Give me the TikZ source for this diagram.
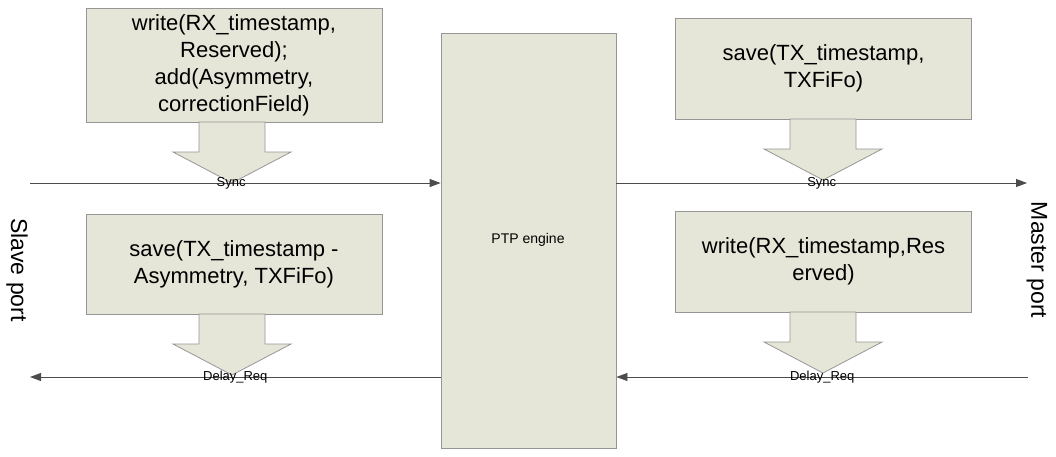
\documentclass[tikz,border=0pt]{standalone}
\usepackage{fontspec}
\setmainfont{Liberation Sans}
\usetikzlibrary{arrows.meta, positioning}

\definecolor{boxfill}{RGB}{230,230,216}
\definecolor{boxline}{RGB}{150,150,150}

\tikzset{
  action/.style = {draw = boxline, fill = boxfill, line width = 0.8pt,
    minimum width = 296pt, align = center, inner sep = 1pt,
    font = \fontsize{22}{27}\selectfont},
  blockarrow/.style = {draw = boxline, fill = boxfill, line width = 0.8pt},
  msg/.style = {draw = black!70, line width = 0.8pt,
    -{Triangle[length = 11pt, width = 8pt]}},
  msglabel/.style = {font = \fontsize{13}{13}\selectfont, inner sep = 1pt},
}

% down-pointing block arrow below a box
\newcommand{\blockdown}[3]{% centre x, top y, tip y
  \draw [blockarrow] (#1-33, #2) -- (#1+33, #2) -- (#1+33, #2+30)
    -- (#1+59, #2+30) -- (#1, #3) -- (#1-59, #2+30) -- (#1-33, #2+30) -- cycle;
}

\begin{document}
\begin{tikzpicture}[x = 1pt, y = -1pt]
        \useasboundingbox (0, 0) rectangle (1056, 456);

        \node [draw = boxline, fill = boxfill, line width = 0.8pt,
          minimum width = 175pt, minimum height = 415pt] (ptp)
          at (528.5, 240.5) {};
        \node [font = \fontsize{14}{14}\selectfont] (ptplabel)
          at (528, 240) {PTP engine};

        \node [action, minimum height = 114pt] (slavesync) at (234, 65)
          {write(RX\_timestamp,\\Reserved);\\add(Asymmetry,\\correctionField)};
        \node [action, minimum height = 101pt] (mastersync) at (823.5, 68.5)
          {save(TX\_timestamp,\\TXFiFo)};
        \node [action, minimum height = 100pt] (slavedelay) at (234, 264)
          {save(TX\_timestamp -\\Asymmetry, TXFiFo)};
        \node [action, minimum height = 101pt] (masterdelay) at (823.5, 261.5)
          {write(RX\_timestamp,Res\\erved)};

        \blockdown{232}{122}{183}
        \blockdown{823}{119}{180}
        \blockdown{232}{314}{375}
        \blockdown{823}{312}{373}

        \coordinate (slaveend) at (30, 183);
        \coordinate (masterend) at (1027, 183);
        \coordinate (slavedelayend) at (30, 377);
        \coordinate (masterdelayend) at (1028, 377);

        \draw [msg] (slaveend) -- (ptp.west |- slaveend)
          node [msglabel, pos = 0.49] {Sync};
        \draw [msg] (ptp.east |- masterend) -- (masterend)
          node [msglabel, pos = 0.50] {Sync};
        \draw [msg] (ptp.west |- slavedelayend) -- (slavedelayend)
          node [msglabel, pos = 0.50] {Delay\_Req};
        \draw [msg] (masterdelayend) -- (ptp.east |- masterdelayend)
          node [msglabel, pos = 0.50] {Delay\_Req};

        \node [rotate = -90, font = \fontsize{23}{23}\selectfont] (slaveport)
          at (17, 270) {Slave port};
        \node [rotate = -90, font = \fontsize{23}{23}\selectfont] (masterport)
          at (1037, 260) {Master port};
\end{tikzpicture}
\end{document}
